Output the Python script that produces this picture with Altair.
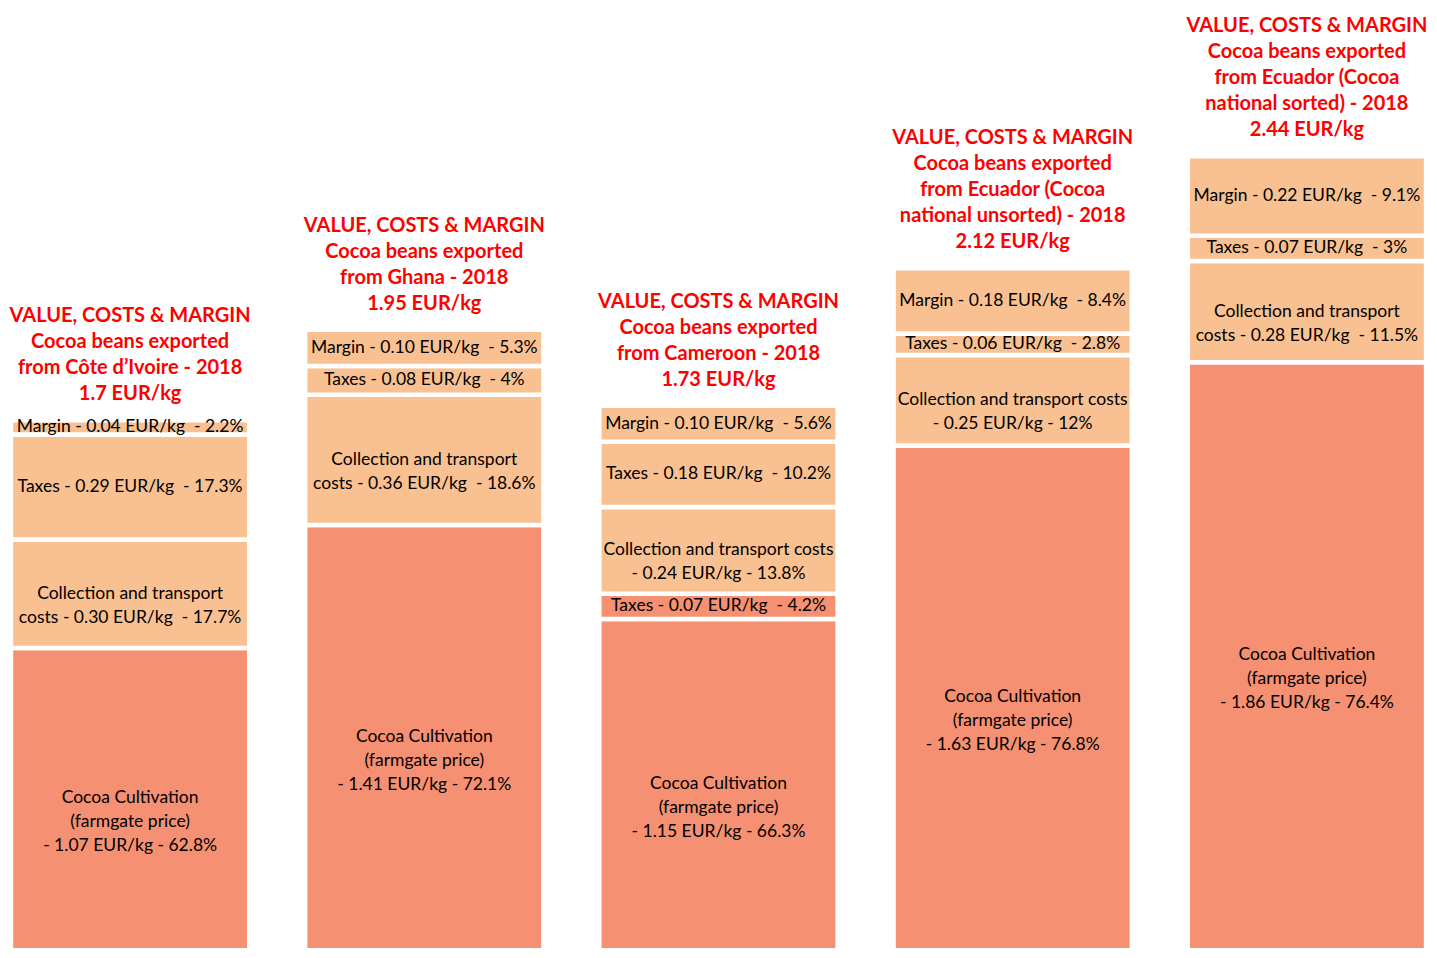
import altair as alt
import pandas as pd

# ---- data (bottom-to-top segments per export origin) ----
countries = ["Côte d'Ivoire", "Ghana", "Cameroon", "Ecuador unsorted", "Ecuador sorted"]

titles = [
    "VALUE, COSTS & MARGIN\nCocoa beans exported\nfrom Côte d’Ivoire  - 2018\n1.7 EUR/kg",
    "VALUE, COSTS & MARGIN\nCocoa beans exported\nfrom Ghana  - 2018\n1.95 EUR/kg",
    "VALUE, COSTS & MARGIN\nCocoa beans exported\nfrom Cameroon - 2018\n1.73 EUR/kg",
    "VALUE, COSTS & MARGIN\nCocoa beans exported\nfrom Ecuador (Cocoa\nnational unsorted) - 2018\n2.12 EUR/kg",
    "VALUE, COSTS & MARGIN\nCocoa beans exported\nfrom Ecuador (Cocoa\nnational sorted)  - 2018\n2.44 EUR/kg",
]

civ_values = [1.07, 0.30, 0.29, 0.04]
civ_kinds = ["farm", "cost", "cost", "cost"]
civ_labels = [
    "Cocoa Cultivation\n(farmgate price)\n- 1.07 EUR/kg - 62.8%",
    "Collection and transport\ncosts - 0.30 EUR/kg \u00a0- 17.7%",
    "Taxes - 0.29 EUR/kg \u00a0- 17.3%",
    "Margin - 0.04 EUR/kg \u00a0- 2.2%",
]

gha_values = [1.41, 0.36, 0.08, 0.10]
gha_kinds = ["farm", "cost", "cost", "cost"]
gha_labels = [
    "Cocoa Cultivation\n(farmgate price)\n- 1.41 EUR/kg - 72.1%",
    "Collection and transport\ncosts - 0.36 EUR/kg \u00a0- 18.6%",
    "Taxes - 0.08 EUR/kg \u00a0- 4%",
    "Margin - 0.10 EUR/kg \u00a0- 5.3%",
]

cmr_values = [1.15, 0.07, 0.24, 0.18, 0.10]
cmr_kinds = ["farm", "farm", "cost", "cost", "cost"]
cmr_labels = [
    "Cocoa Cultivation\n(farmgate price)\n- 1.15 EUR/kg - 66.3%",
    "Taxes - 0.07 EUR/kg \u00a0- 4.2%",
    "Collection and transport costs\n- 0.24 EUR/kg - 13.8%",
    "Taxes - 0.18 EUR/kg \u00a0- 10.2%",
    "Margin - 0.10 EUR/kg \u00a0- 5.6%",
]

ecu_values = [1.63, 0.25, 0.06, 0.18]
ecu_kinds = ["farm", "cost", "cost", "cost"]
ecu_labels = [
    "Cocoa Cultivation\n(farmgate price)\n- 1.63 EUR/kg - 76.8%",
    "Collection and transport costs\n- 0.25 EUR/kg - 12%",
    "Taxes - 0.06 EUR/kg \u00a0- 2.8%",
    "Margin - 0.18 EUR/kg \u00a0- 8.4%",
]

ecs_values = [1.86, 0.28, 0.07, 0.22]
ecs_kinds = ["farm", "cost", "cost", "cost"]
ecs_labels = [
    "Cocoa Cultivation\n(farmgate price)\n- 1.86 EUR/kg - 76.4%",
    "Collection and transport\ncosts - 0.28 EUR/kg \u00a0- 11.5%",
    "Taxes - 0.07 EUR/kg \u00a0- 3%",
    "Margin - 0.22 EUR/kg \u00a0- 9.1%",
]

Y_MIN, Y_MAX = 0.24, 2.84

# ---- build tables ----
groups = [
    (civ_values, civ_kinds, civ_labels),
    (gha_values, gha_kinds, gha_labels),
    (cmr_values, cmr_kinds, cmr_labels),
    (ecu_values, ecu_kinds, ecu_labels),
    (ecs_values, ecs_kinds, ecs_labels),
]
rows = []
title_rows = []
for country, title, (vals, kinds, labels) in zip(countries, titles, groups):
    start = 0.0
    for v, k, lab in zip(vals, kinds, labels):
        end = start + v
        vis_start = max(start, Y_MIN)
        rows.append(dict(country=country, start=start, end=end, kind=k,
                         label=lab, mid=(vis_start + end) / 2))
        start = end
    title_rows.append(dict(country=country, total=start, title=title,
                           nlines=title.count("\n") + 1))

seg = pd.DataFrame(rows)
tdf = pd.DataFrame(title_rows)


def x_enc():
    return alt.X("country:N", sort=countries, axis=None,
                 scale=alt.Scale(paddingInner=0.19, paddingOuter=0.01))


y_scale = alt.Scale(domain=[Y_MIN, Y_MAX], nice=False, zero=False)

bars = alt.Chart(seg).mark_bar(clip=True, stroke="white", strokeWidth=4.5).encode(
    x=x_enc(),
    y=alt.Y("start:Q", scale=y_scale, axis=None),
    y2="end:Q",
    color=alt.Color("kind:N", legend=None,
                    scale=alt.Scale(domain=["cost", "farm"], range=["#F9C191", "#F59073"])),
)

seg_text = alt.Chart(seg).mark_text(
    font="Lato", fontSize=17.5, lineHeight=24, color="#000000",
    baseline="middle", align="center", lineBreak="\n",
).encode(
    x=x_enc(),
    y=alt.Y("mid:Q", scale=y_scale, axis=None),
    text="label:N",
)

LH = 26


def title_layer(n):
    return alt.Chart(tdf).transform_filter(alt.datum.nlines == n).mark_text(
        font="Lato", fontSize=20, fontWeight="bold", lineHeight=LH, color="#FF0000",
        baseline="bottom", align="center", lineBreak="\n", dy=-16 - (n - 1) * LH,
    ).encode(
        x=x_enc(),
        y=alt.Y("total:Q", scale=y_scale, axis=None),
        text="title:N",
    )


chart = alt.layer(bars, seg_text, title_layer(4), title_layer(5)).properties(
    width=1421, height=940, padding=0, autosize="none", background="white"
).configure_view(stroke=None)

chart.save("out.html", embed_options={"renderer": "svg", "actions": False})
